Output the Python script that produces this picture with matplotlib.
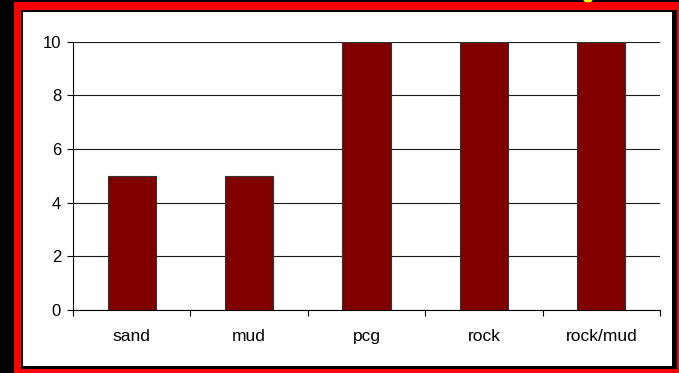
#!/usr/bin/env python3
"""Bar chart of counts per bottom type, framed like the original slide."""

import matplotlib

matplotlib.use("Agg")
import matplotlib.pyplot as plt
from matplotlib.patches import Ellipse, Rectangle

categories = ["sand", "mud", "pcg", "rock", "rock/mud"]
values = [5, 5, 10, 10, 10]
y_ticks = [0, 2, 4, 6, 8, 10]

W, H = 679, 373

plt.rcParams["font.family"] = ["Liberation Sans", "DejaVu Sans"]

fig = plt.figure(figsize=(W / 100, H / 100), dpi=100, facecolor="black")

# slide frame drawn in pixel coordinates
frame = fig.add_axes([0, 0, 1, 1])
frame.set_xlim(0, W)
frame.set_ylim(H, 0)
frame.set_axis_off()
frame.add_patch(Rectangle((14, 2), W - 14, H - 2, facecolor="#FF0000", edgecolor="none"))
frame.add_patch(Rectangle((21, 10), 656, 359, facecolor="black", edgecolor="none"))
frame.add_patch(Rectangle((23, 12), 649, 354, facecolor="white", edgecolor="none"))
frame.add_patch(Ellipse((588, 0), 9, 5, facecolor="#FFFF00", edgecolor="none"))

left, right = 73 / W, 660 / W
bottom, top = 1 - 310 / H, 1 - 41.5 / H
ax = fig.add_axes([left, bottom, right - left, top - bottom])
ax.set_facecolor("none")

x = list(range(len(categories)))
ax.bar(x, values, width=0.41, color="#800000", edgecolor="#333333", linewidth=0.8, zorder=3)

ax.set_xlim(-0.5, len(categories) - 0.5)
ax.set_ylim(0, 10)
ax.set_yticks(y_ticks)
ax.yaxis.grid(True, color="#1a1a1a", linewidth=0.8, zorder=0)
ax.set_axisbelow(True)

for side in ("top", "right"):
    ax.spines[side].set_visible(False)
for side in ("left", "bottom"):
    ax.spines[side].set_color("black")
    ax.spines[side].set_linewidth(0.8)

ax.set_xticks(x)
ax.set_xticklabels(categories)
ax.set_xticks([i - 0.5 for i in range(len(categories) + 1)], minor=True)
ax.tick_params(axis="x", which="major", length=0, pad=14, labelsize=12.5, colors="black")
ax.tick_params(axis="x", which="minor", length=4.3, width=0.8, direction="out", color="black")
ax.tick_params(axis="y", length=4.3, width=0.8, direction="out", pad=4.3, labelsize=12, colors="black")

fig.savefig("out.png", dpi=100, facecolor=fig.get_facecolor())
plt.close(fig)
